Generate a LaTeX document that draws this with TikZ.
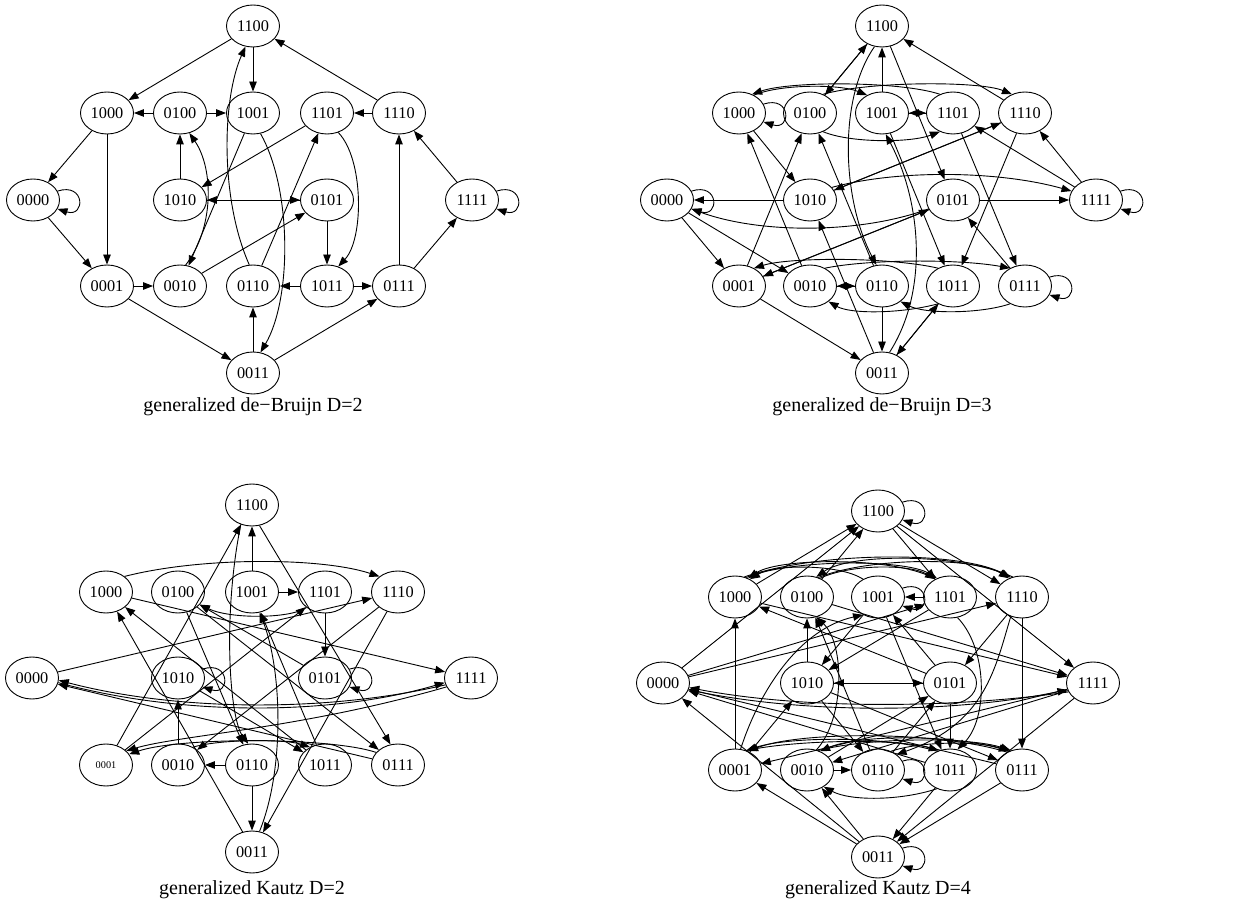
\documentclass[tikz,border=0pt]{standalone}
\usepackage{fontspec}
\setmainfont{Liberation Serif}
\usetikzlibrary{arrows.meta,shapes.geometric}
\newcommand\myloop[1]{\draw[e] (#1.20) .. controls +(28,9) and +(28,-9) .. (#1.-20);}
\begin{document}
\begin{tikzpicture}[x=1pt,y=1pt,
  v/.style={ellipse,draw,line width=0.9pt,minimum width=53pt,minimum height=42pt,inner sep=0pt,font=\fontsize{16.3}{18}\selectfont},
  e/.style={-{Triangle[length=10pt,width=7.5pt]},line width=0.9pt},
  captxt/.style={font=\fontsize{20}{24}\selectfont}]
\useasboundingbox (0,0) rectangle (1253,919);
% ================= TL: de Bruijn D=2 =================
\node[v] (a1100) at (253,893) {1100};
\node[v] (a1000) at (107,806) {1000};
\node[v] (a0100) at (180,806) {0100};
\node[v] (a1001) at (253,806) {1001};
\node[v] (a1101) at (327,806) {1101};
\node[v] (a1110) at (399,806) {1110};
\node[v] (a0000) at (33,719) {0000};
\node[v] (a1010) at (180,719) {1010};
\node[v] (a0101) at (327,719) {0101};
\node[v] (a1111) at (472,719) {1111};
\node[v] (a0001) at (107,633) {0001};
\node[v] (a0010) at (180,633) {0010};
\node[v] (a0110) at (253,633) {0110};
\node[v] (a1011) at (327,633) {1011};
\node[v] (a0111) at (399,633) {0111};
\node[v] (a0011) at (253,546) {0011};
\node[captxt] (capa) at (253,512) {generalized de−Bruijn D=2};
\draw[e] (a0000) -- (a0001);
\draw[e] (a0001) -- (a0010);
\draw[e] (a0001) -- (a0011);
\draw[e] (a0010) -- (a0101);
\draw[e] (a0011) -- (a0110);
\draw[e] (a0011) -- (a0111);
\draw[e] (a0100) -- (a1000);
\draw[e] (a0100) -- (a1001);
\draw[e] (a0101) -- (a1010);
\draw[e] (a1010) -- (a0101);
\draw[e] (a0101) -- (a1011);
\draw[e] (a0110) -- (a1101);
\draw[e] (a0111) -- (a1110);
\draw[e] (a0111) -- (a1111);
\draw[e] (a1000) -- (a0000);
\draw[e] (a1000) -- (a0001);
\draw[e] (a1001) -- (a0010);
\draw[e] (a1010) -- (a0100);
\draw[e] (a1011) -- (a0110);
\draw[e] (a1011) -- (a0111);
\draw[e] (a1100) -- (a1000);
\draw[e] (a1100) -- (a1001);
\draw[e] (a1101) -- (a1010);
\draw[e] (a1110) -- (a1100);
\draw[e] (a1110) -- (a1101);
\draw[e] (a1111) -- (a1110);
\myloop{a0000}
\myloop{a1111}
\draw[e] (a0110.100) .. controls (220,720) and (222,820) .. (a1100.250);
\draw[e] (a1001.290) .. controls (292,730) and (292,620) .. (a0011.70);
\draw[e] (a1101.300) .. controls (364,760) and (364,680) .. (a1011.60);
\draw[e] (a0010.75) .. controls (214,690) and (214,750) .. (a0100.295);
% ================= TR: de Bruijn D=3 =================
\node[v] (b1100) at (882,893) {1100};
\node[v] (b1000) at (739,806) {1000};
\node[v] (b0100) at (810,806) {0100};
\node[v] (b1001) at (882,806) {1001};
\node[v] (b1101) at (953,806) {1101};
\node[v] (b1110) at (1025,806) {1110};
\node[v] (b0000) at (667,719) {0000};
\node[v] (b1010) at (810,719) {1010};
\node[v] (b0101) at (953,719) {0101};
\node[v] (b1111) at (1096,719) {1111};
\node[v] (b0001) at (739,633) {0001};
\node[v] (b0010) at (810,633) {0010};
\node[v] (b0110) at (882,633) {0110};
\node[v] (b1011) at (953,633) {1011};
\node[v] (b0111) at (1025,633) {0111};
\node[v] (b0011) at (882,546) {0011};
\node[captxt] (capb) at (882,512) {generalized de−Bruijn D=3};
\draw[e] (b0000) -- (b0001);
\draw[e] (b0000) -- (b0010);
\draw[e] (b0001) -- (b0011);
\draw[e] (b0001) -- (b0100);
\draw[e] (b0001) -- (b0101);
\draw[e] (b0010) -- (b0110);
\draw[e] (b0010) -- (b1000);
\draw[e] (b0011) -- (b1010);
\draw[e] (b0011) -- (b1011);
\draw[e] (b0100) -- (b1100);
\draw[e] (b0101) -- (b1111);
\draw[e] (b0101) -- (b0001);
\draw[e] (b0110) -- (b0010);
\draw[e] (b0110) -- (b0011);
\draw[e] (b0110) -- (b0100);
\draw[e] (b0111) -- (b0101);
\draw[e] (b1000) -- (b1010);
\draw[e] (b1001) -- (b1011);
\draw[e] (b1001) -- (b1100);
\draw[e] (b1001) -- (b1101);
\draw[e] (b1010) -- (b1110);
\draw[e] (b1010) -- (b0000);
\draw[e] (b1011) -- (b0011);
\draw[e] (b1100) -- (b0100);
\draw[e] (b1100) -- (b0101);
\draw[e] (b1101) -- (b0111);
\draw[e] (b1101) -- (b1001);
\draw[e] (b1110) -- (b1010);
\draw[e] (b1110) -- (b1011);
\draw[e] (b1110) -- (b1100);
\draw[e] (b1111) -- (b1101);
\draw[e] (b1111) -- (b1110);
\myloop{b0000}
\myloop{b0111}
\myloop{b1000}
\myloop{b1111}
\draw[e] (b0010.50) .. controls (870,660) and (960,660) .. (b0111.130);
\draw[e] (b1011.130) .. controls (890,662) and (790,662) .. (b0001.50);
\draw[e] (b1011.230) .. controls (900,605) and (850,605) .. (b0010.-40);
\draw[e] (b0111.230) .. controls (980,605) and (925,605) .. (b0110.-40);
\draw[e] (b1000.50) .. controls (780,835) and (840,835) .. (b1001.130);
\draw[e] (b1101.125) .. controls (900,838) and (790,838) .. (b1000.55);
\draw[e] (b0100.55) .. controls (870,838) and (980,838) .. (b1110.125);
\draw[e] (b0100.-55) .. controls (850,776) and (910,776) .. (b1101.235);
\draw[e] (b1010.30) .. controls (900,750) and (1000,748) .. (b1111.160);
\draw[e] (b0101.200) .. controls (860,685) and (760,685) .. (b0000.-20);
\draw[e] (b0011.70) .. controls (930,630) and (920,720) .. (b1001.280);
\draw[e] (b1100.250) .. controls (838,820) and (842,720) .. (b0110.105);
% ================= BL: Kautz D=2 =================
\node[v] (c1100) at (252,414) {1100};
\node[v] (c1000) at (106,327) {1000};
\node[v] (c0100) at (178,327) {0100};
\node[v] (c1001) at (252,327) {1001};
\node[v] (c1101) at (325,327) {1101};
\node[v] (c1110) at (398,327) {1110};
\node[v] (c0000) at (32,241) {0000};
\node[v] (c1010) at (178,241) {1010};
\node[v] (c0101) at (325,241) {0101};
\node[v] (c1111) at (471,241) {1111};
\node[v,font=\fontsize{10.3}{12}\selectfont] (c0001) at (106,154) {0001};
\node[v] (c0010) at (178,154) {0010};
\node[v] (c0110) at (252,154) {0110};
\node[v] (c1011) at (325,154) {1011};
\node[v] (c0111) at (398,154) {0111};
\node[v] (c0011) at (252,67) {0011};
\node[captxt] (capc) at (252,29) {generalized Kautz D=2};
\draw[e] (c0000) -- (c1110);
\draw[e] (c0001) -- (c1101);
\draw[e] (c0001) -- (c1100);
\draw[e] (c0010) -- (c1010);
\draw[e] (c0011.115) -- (c1000);
\draw[e] (c0100) -- (c0111);
\draw[e] (c0100) -- (c0110);
\draw[e] (c0101) -- (c0100);
\draw[e] (c0110) -- (c0011);
\draw[e] (c0110) -- (c0010);
\draw[e] (c0111) -- (c0000);
\draw[e] (c1000) -- (c1111);
\draw[e] (c1001) -- (c1101);
\draw[e] (c1001) -- (c1100);
\draw[e] (c1010) -- (c1011);
\draw[e] (c1011) -- (c1001);
\draw[e] (c1011) -- (c1000);
\draw[e] (c1100.-70) -- (c0111.110);
\draw[e] (c1101) -- (c0101);
\draw[e] (c1110) -- (c0011);
\draw[e] (c1110) -- (c0010);
\myloop{c0101}
\myloop{c1010}
\draw[e] (c0000.-10) .. controls (180,203) and (330,203) .. (c1111.190);
\draw[e] (c1111.195) .. controls (330,207) and (180,207) .. (c0000.-5);
\draw[e] (c0010.50) .. controls (220,180) and (285,180) .. (c1011.130);
\draw[e] (c0111.150) .. controls (330,182) and (180,182) .. (c0001.25);
\draw[e] (c1111.200) .. controls (300,190) and (180,184) .. (c0001.35);
\draw[e] (c0011.70) .. controls (285,150) and (282,250) .. (c1001.290);
\draw[e] (c1100.240) .. controls (222,300) and (230,200) .. (c0110.100);
\draw[e] (c1101.220) .. controls (290,300) and (230,300) .. (c0100.330);
\draw[e] (c1000.40) .. controls (200,362) and (320,362) .. (c1110.140);
% ================= BR: Kautz D=4 =================
\node[v] (d1100) at (878,408) {1100};
\node[v] (d1000) at (735,322) {1000};
\node[v] (d0100) at (807,322) {0100};
\node[v] (d1001) at (878,322) {1001};
\node[v] (d1101) at (950,322) {1101};
\node[v] (d1110) at (1022,322) {1110};
\node[v] (d0000) at (663,236) {0000};
\node[v] (d1010) at (807,236) {1010};
\node[v] (d0101) at (950,236) {0101};
\node[v] (d1111) at (1093,236) {1111};
\node[v] (d0001) at (735,149) {0001};
\node[v] (d0010) at (807,149) {0010};
\node[v] (d0110) at (878,149) {0110};
\node[v] (d1011) at (950,149) {1011};
\node[v] (d0111) at (1022,149) {0111};
\node[v] (d0011) at (878,62) {0011};
\node[captxt] (capd) at (878,29) {generalized Kautz D=4};
% straight edges
\draw[e] (d0000) -- (d1110);
\draw[e] (d0000) -- (d1101);
\draw[e] (d0000) -- (d1100);
\draw[e] (d0001) -- (d1010);
\draw[e] (d0001) -- (d1000);
\draw[e] (d0010) -- (d0110);
\draw[e] (d0010) -- (d0101);
\draw[e] (d0011) -- (d0010);
\draw[e] (d0011) -- (d0001);
\draw[e] (d0011) -- (d0000);
\draw[e] (d0100) -- (d1111);
\draw[e] (d0100) -- (d1100);
\draw[e] (d0101) -- (d1011);
\draw[e] (d0101) -- (d1010);
\draw[e] (d0101) -- (d1001);
\draw[e] (d0101) -- (d1000);
\draw[e] (d0110) -- (d0101);
\draw[e] (d0110) -- (d0100);
\draw[e] (d0111) -- (d0011);
\draw[e] (d0111) -- (d0000);
\draw[e] (d1000) -- (d1111);
\draw[e] (d1000) -- (d1100);
\draw[e] (d1001) -- (d1011);
\draw[e] (d1001) -- (d1010);
\draw[e] (d1010) -- (d0111);
\draw[e] (d1010) -- (d0110);
\draw[e] (d1010) -- (d0101);
\draw[e] (d1010) -- (d0100);
\draw[e] (d1011) -- (d0011);
\draw[e] (d1011) -- (d0000);
\draw[e] (d1100) -- (d1111);
\draw[e] (d1100) -- (d1110);
\draw[e] (d1100) -- (d1101);
\draw[e] (d1101) -- (d1010);
\draw[e] (d1101) -- (d1001);
\draw[e] (d1110) -- (d0111);
\draw[e] (d1110) -- (d0101);
\draw[e] (d1111) -- (d0011);
\draw[e] (d1111) -- (d0010);
\draw[e] (d1111) -- (d0001);
% loops
\myloop{d1100}
\myloop{d1001}
\myloop{d0110}
\myloop{d0011}
% row 2 curves (above)
\draw[e] (d1001.130) .. controls (840,355) and (775,355) .. (d1000.50);
\draw[e] (d1101.130) .. controls (900,362) and (780,362) .. (d1000.55);
\draw[e] (d1000.60) .. controls (790,360) and (905,360) .. (d1101.125);
\draw[e] (d1000.65) .. controls (820,368) and (960,368) .. (d1110.120);
\draw[e] (d0100.60) .. controls (870,362) and (975,362) .. (d1110.125);
\draw[e] (d0100.55) .. controls (850,355) and (910,355) .. (d1101.130);
\draw[e] (d1110.115) .. controls (960,366) and (850,366) .. (d0100.65);
% row 4 curves
\draw[e] (d0001.60) .. controls (800,180) and (900,180) .. (d1011.120);
\draw[e] (d0010.60) .. controls (870,182) and (970,182) .. (d0111.120);
\draw[e] (d0110.55) .. controls (920,178) and (980,178) .. (d0111.125);
\draw[e] (d0111.125) .. controls (960,185) and (860,185) .. (d0010.55);
\draw[e] (d0111.130) .. controls (940,188) and (800,188) .. (d0001.55);
\draw[e] (d1011.125) .. controls (890,183) and (790,183) .. (d0001.60);
\draw[e] (d1011.235) .. controls (900,118) and (850,118) .. (d0010.-45);
% row 3 curves
\draw[e] (d0000.-15) .. controls (800,205) and (950,205) .. (d1111.195);
\draw[e] (d1111.200) .. controls (950,210) and (800,210) .. (d0000.-10);
% other bends
\draw[e] (d0001.75) .. controls (760,230) and (800,290) .. (d1001.230);
\draw[e] (d0010.65) .. controls (845,200) and (845,275) .. (d0100.-65);
\draw[e] (d1101.-70) .. controls (988,270) and (988,200) .. (d1011.70);
\draw[e] (d1110.240) .. controls (995,250) and (985,195) .. (d0110.40);
\end{tikzpicture}
\end{document}
